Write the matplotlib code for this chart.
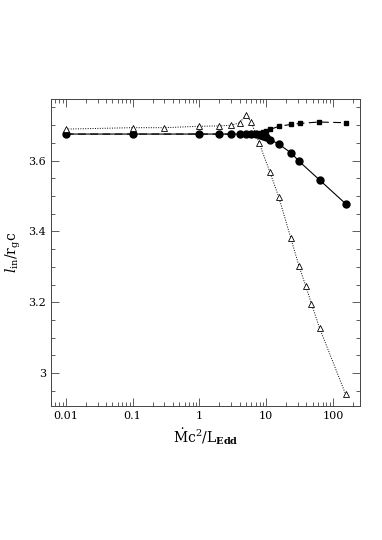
import matplotlib
matplotlib.use("Agg")
import matplotlib.pyplot as plt
from matplotlib.ticker import LogLocator, FixedLocator, MultipleLocator, NullFormatter

plt.rcParams['font.family'] = ['DejaVu Serif']
plt.rcParams['mathtext.fontset'] = 'dejavuserif'

# filled circles (solid line)
x_circ = [0.01, 0.1, 1, 2, 3, 4, 5, 6, 7, 8, 9, 10, 11.6, 15.6, 23.9, 31.1, 63.3, 155]
y_circ = [3.675, 3.675, 3.675, 3.675, 3.675, 3.675, 3.675, 3.675, 3.674, 3.673, 3.670, 3.666, 3.659, 3.646, 3.621, 3.598, 3.545, 3.478]

# filled squares (dashed line)
x_sq = [0.01, 0.1, 1, 2, 3, 4, 5, 6, 7, 8, 9, 10, 11.4, 15.6, 23.2, 31.8, 61.7, 155]
y_sq = [3.675, 3.675, 3.675, 3.675, 3.675, 3.675, 3.675, 3.675, 3.676, 3.678, 3.681, 3.684, 3.688, 3.697, 3.702, 3.705, 3.709, 3.707]

# open triangles (dotted line)
x_tri = [0.01, 0.1, 0.3, 1, 2, 3, 4, 5, 6, 7.8, 11.4, 15.5, 23.4, 31, 39.3, 47.6, 63, 155]
y_tri = [3.689, 3.693, 3.693, 3.697, 3.698, 3.700, 3.707, 3.729, 3.708, 3.651, 3.567, 3.496, 3.381, 3.302, 3.245, 3.196, 3.127, 2.940]

xtick_vals = [0.01, 0.1, 1, 10, 100]
xtick_labels = ['0.01', '0.1', '1', '10', '100']
ytick_vals = [3.0, 3.2, 3.4, 3.6]
ytick_labels = ['3', '3.2', '3.4', '3.6']

fig = plt.figure(figsize=(3.82, 5.40), dpi=100)
ax = fig.add_axes([51/382, 1 - 406/540, (360-51)/382, (406-99)/540])

ax.plot(x_sq, y_sq, color='black', lw=0.8, ls=(0, (7, 4)), marker='s', ms=3.3,
        mfc='black', mec='black')
ax.plot(x_circ, y_circ, color='black', lw=0.8, ls='-', marker='o', ms=5.0,
        mfc='black', mec='black')
ax.plot(x_tri, y_tri, color='black', lw=0.7, ls=(0, (1, 1.5)), marker='^', ms=4.2,
        mfc='white', mec='black', mew=0.6)

ax.set_xscale('log')
ax.set_xlim(0.006, 254)
ax.set_ylim(2.907, 3.774)

ax.xaxis.set_major_locator(FixedLocator(xtick_vals))
ax.set_xticklabels(xtick_labels)
ax.xaxis.set_minor_locator(LogLocator(base=10, subs=range(2, 10), numticks=20))
ax.xaxis.set_minor_formatter(NullFormatter())
ax.yaxis.set_major_locator(FixedLocator(ytick_vals))
ax.set_yticklabels(ytick_labels)
ax.yaxis.set_minor_locator(MultipleLocator(0.05))

ax.tick_params(which='both', direction='in', top=True, right=True, labelsize=8, color='#444444')
ax.tick_params(which='major', length=6, width=0.6)
ax.tick_params(which='minor', length=3, width=0.6)
for s in ax.spines.values():
    s.set_linewidth(0.7)
    s.set_color('#444444')

ax.set_xlabel(r'$\dot{\rm M}{\rm c}^2/{\rm L}_{\bf Edd}$', fontsize=10, labelpad=4)
ax.set_ylabel(r'$l_{\rm in}/{\rm r}_{\rm g}{\rm c}$', fontsize=10, labelpad=4)

fig.savefig('out.png', dpi=100)
